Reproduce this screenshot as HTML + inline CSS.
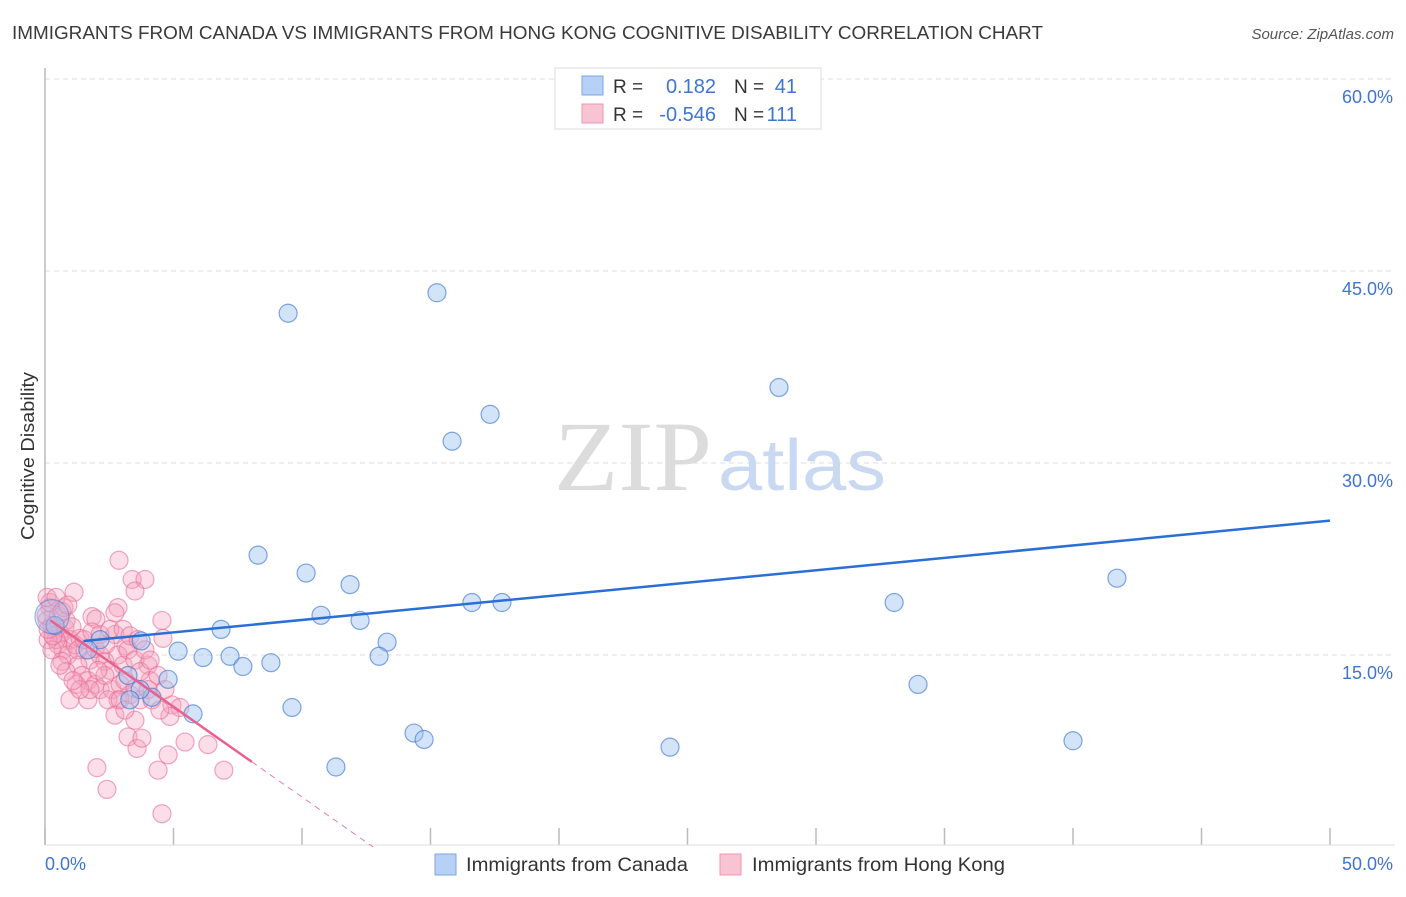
<!DOCTYPE html>
<html><head><meta charset="utf-8"><style>
body{margin:0;background:#fff;font-family:"Liberation Sans",sans-serif;}
svg text{font-family:"Liberation Sans",sans-serif;}
</style></head><body>
<svg width="1406" height="892" viewBox="0 0 1406 892">
<script>
const blueX=[9.46,15.25,28.56,17.32,15.84,8.29,10.16,11.87,41.71,33.04,16.61,17.78,10.74,12.26,6.85,3.74,13.31,5.18,6.15,7.2,7.7,8.79,13.0,3.23,4.79,4.16,5.76,9.61,33.97,14.36,14.75,24.32,40.0,11.32,20.62,0.39,2.14,3.7,3.3,1.67];
const blueY=[41.7,43.3,35.9,33.8,31.7,22.8,21.4,20.5,21.0,19.1,19.1,19.1,18.1,17.7,17.0,16.1,16.0,15.3,14.8,14.9,14.1,14.4,14.9,13.4,13.1,11.7,10.4,10.9,12.7,8.9,8.4,7.8,8.3,6.25,58.0,17.3,16.2,12.3,11.5,15.4];
const pinkX=[2.88,3.39,3.89,1.13,3.5,2.84,2.72,4.55,1.83,1.98,4.59,2.72,3.15,0.19,0.08,0.27,0.39,0.58,0.78,0.97,0.51,0.7,0.89,1.17,1.36,1.56,1.75,1.95,2.14,2.33,2.53,1.28,1.44,1.67,1.95,2.14,2.33,2.61,2.92,3.11,3.31,3.5,3.7,4.01,4.09,4.4,4.67,4.94,5.25,4.86,5.45,6.34,6.96,3.23,3.58,3.77,4.4,4.79,2.02,2.41,4.55,0.97,0.66,0.43,0.82,1.05,1.28,1.52,1.83,2.06,2.37,2.84,3.04,3.23,3.5,3.7,4.01,4.16,4.47,2.84,2.45,1.67,1.21,0.82,0.12,0.27,0.51,0.74,2.14,2.53,3.04,3.31,3.62,3.89,4.09,2.92,2.72,3.5,3.11,1.75,1.36,1.09,0.58,0.31,0.12,0.04,0.19,0.08,0.43,0.66,0.89];
const pinkY=[22.4,20.9,20.9,19.9,20.0,18.7,18.3,17.7,18.0,17.8,16.3,16.6,15.7,18.7,17.7,17.3,16.95,16.7,17.1,16.2,15.8,15.4,15.0,15.8,16.3,15.4,14.6,15.5,15.0,14.5,13.8,14.2,13.4,13.0,12.7,12.3,13.4,12.3,12.7,13.0,11.9,12.4,11.5,14.2,13.0,13.4,12.3,11.1,10.9,10.2,8.2,8.0,6.0,8.6,7.7,8.5,6.0,7.2,6.2,4.5,2.6,11.5,14.5,16.2,17.7,17.2,15.4,16.2,16.8,13.8,15.8,15.0,14.2,15.4,14.6,13.7,12.3,11.5,10.7,11.5,11.5,11.5,12.7,13.7,16.2,15.4,18.1,18.7,16.6,17.0,17.0,16.5,16.2,15.4,14.6,11.5,10.3,9.9,10.7,12.3,12.3,13.0,14.2,16.5,17.0,18.1,19.1,19.5,19.5,18.4,18.9];
const yTicks=[15,30,45,60];
const yTickLabels=["15.0%","30.0%","45.0%","60.0%"];
const blueTrend=[15.8,25.5];
const pinkTrend=[18.0,-1.41];
</script>
<text x="12" y="39" font-size="18.5" fill="#3a3a3a" textLength="1031" lengthAdjust="spacingAndGlyphs">IMMIGRANTS FROM CANADA VS IMMIGRANTS FROM HONG KONG COGNITIVE DISABILITY CORRELATION CHART</text>
<text x="1394" y="39" font-size="15" fill="#555" font-style="italic" text-anchor="end">Source: ZipAtlas.com</text>
<g id="grid"></g>
<text x="554" y="490" font-size="100" fill="#dcdcdc" textLength="158" lengthAdjust="spacingAndGlyphs" style="font-family:'Liberation Serif',serif">ZIP</text>
<text x="718" y="490" font-size="72" fill="#c9d9f2" textLength="168" lengthAdjust="spacingAndGlyphs">atlas</text>
<line x1="45" y1="68" x2="45" y2="845" stroke="#bbb" stroke-width="1.5"/>
<line x1="45" y1="845" x2="1395" y2="845" stroke="#ddd" stroke-width="1"/>
<text x="34" y="456" font-size="18" fill="#333" text-anchor="middle" textLength="168" lengthAdjust="spacingAndGlyphs" transform="rotate(-90 34 456)">Cognitive Disability</text>
<text x="45" y="870" font-size="18" fill="#3f74d0">0.0%</text>
<text x="1393" y="870" font-size="18" fill="#3f74d0" text-anchor="end">50.0%</text>
<g id="pts"></g>
<g id="trends"></g>
<g>
<rect x="555" y="68" width="266" height="61" fill="#fff" stroke="#ddd"/>
<rect x="582" y="76" width="21" height="19" fill="#b7d0f5" stroke="#7ea6e8"/>
<rect x="582" y="104" width="21" height="19" fill="#f8c3d3" stroke="#ef94b0"/>
<text x="613" y="93" font-size="19" fill="#333">R =</text><text x="716" y="93" font-size="20" fill="#3f74d0" text-anchor="end">0.182</text>
<text x="734" y="93" font-size="19" fill="#333">N =</text><text x="797" y="93" font-size="20" fill="#3f74d0" text-anchor="end">41</text>
<text x="613" y="121" font-size="19" fill="#333">R =</text><text x="716" y="121" font-size="20" fill="#3f74d0" text-anchor="end">-0.546</text>
<text x="734" y="121" font-size="19" fill="#333">N =</text><text x="797" y="121" font-size="20" fill="#3f74d0" text-anchor="end">111</text>
</g>
<g>
<rect x="435" y="854" width="21" height="21" fill="#b7d0f5" stroke="#7ea6e8"/>
<text x="466" y="871" font-size="19" fill="#333" textLength="222" lengthAdjust="spacingAndGlyphs">Immigrants from Canada</text>
<rect x="720" y="854" width="21" height="21" fill="#f8c3d3" stroke="#ef94b0"/>
<text x="752" y="871" font-size="19" fill="#333" textLength="253" lengthAdjust="spacingAndGlyphs">Immigrants from Hong Kong</text>
</g>
<script>
const NS="http://www.w3.org/2000/svg";
const X0=45,X1=1330,Y0=847,PER=12.8;
function sx(v){return X0+v*(X1-X0)/50;}
function sy(v){return Y0-v*PER;}
function mk(tag,attrs,parent){const e=document.createElementNS(NS,tag);for(const k in attrs)e.setAttribute(k,attrs[k]);parent.appendChild(e);return e;}
const grid=document.getElementById('grid');
yTicks.forEach((t,i)=>{
 const l=mk('line',{x1:45,x2:1395,y1:sy(t),y2:sy(t),stroke:'#ddd','stroke-dasharray':'5,4'},grid);
 
 
 const tx=mk('text',{x:1393,y:sy(t)+24,'font-size':18,fill:'#3f74d0','text-anchor':'end'},grid);
 tx.textContent=yTickLabels[i];
 
 
});
for(let v=0;v<=50;v+=5){
 const l=mk('line',{x1:sx(v),x2:sx(v),y1:828,y2:845,stroke:'#bbb','stroke-width':1.5},grid);
 
 
}
const pts=document.getElementById('pts');
pinkX.forEach((x,i)=>{
 const c=mk('circle',{cx:sx(x),cy:sy(pinkY[i]),r:9,fill:'rgba(244,160,188,0.35)',stroke:'rgba(232,110,150,0.6)','stroke-width':1.2},pts);
 
 
});
blueX.forEach((x,i)=>{
 const c=mk('circle',{cx:sx(x),cy:sy(blueY[i]),r:9,fill:'rgba(160,195,240,0.45)',stroke:'rgba(60,120,210,0.65)','stroke-width':1.2},pts);
 
 
});
const big=mk('circle',{cx:sx(0.27),cy:sy(18),r:17,fill:'rgba(160,195,240,0.35)',stroke:'rgba(60,120,210,0.5)','stroke-width':1.2},pts);


const tr=document.getElementById('trends');
const bl=mk('line',{x1:sx(1.5),y1:sy(blueTrend[0]+(blueTrend[1]-blueTrend[0])*1.5/50),x2:sx(50),y2:sy(blueTrend[1]),stroke:'#2a6fd6','stroke-width':2.5},tr);


const pl=mk('line',{x1:sx(0.2),y1:sy(pinkTrend[0]+pinkTrend[1]*0.2),x2:sx(8.05),y2:sy(pinkTrend[0]+pinkTrend[1]*8.05),stroke:'#e8618f','stroke-width':2.5},tr);


const xe=-pinkTrend[0]/pinkTrend[1];
const pd=mk('line',{x1:sx(8.05),y1:sy(pinkTrend[0]+pinkTrend[1]*8.05),x2:sx(xe),y2:sy(0),stroke:'#e8819f','stroke-width':1,'stroke-dasharray':'6,5'},tr);


</script>
</svg>
</body></html>
